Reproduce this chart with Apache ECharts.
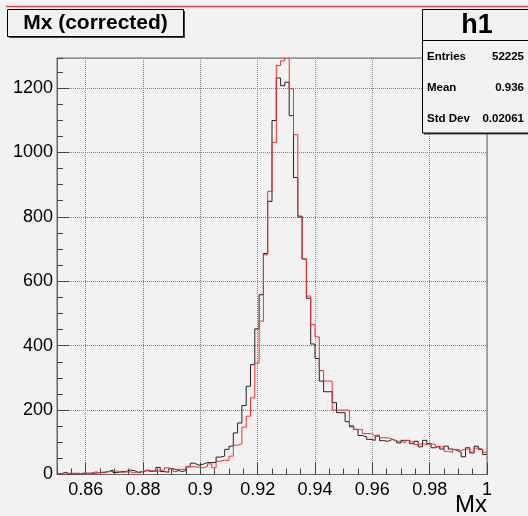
<!DOCTYPE html>
<html>
<head>
<meta charset="utf-8">
<script src="https://cdn.jsdelivr.net/npm/echarts@6/dist/echarts.min.js"></script>
<style>html,body{margin:0;padding:0;background:#f2f2f2;}#c{width:528px;height:516px;}</style>
</head>
<body>
<div id="c"></div>
<script>
// Histogram binning
const XMIN = 0.85, XMAX = 1.0, NBINS = 100;
const YMAX = 1293;
const xTicks = [0.86, 0.88, 0.9, 0.92, 0.94, 0.96, 0.98, 1];
const yTicks = [0, 200, 400, 600, 800, 1000, 1200];

// Black histogram (bin contents)
const blackCounts = [
  2,7,2,2,2,4,4,4,4,6,
  6,9,14,6,9,9,14,12,6,9,
  12,9,12,22,9,7,18,14,9,12,
  24,35,29,32,37,37,37,54,57,78,
  88,129,160,214,274,341,452,558,686,848,
  1099,1231,1207,1218,1114,922,802,669,547,405,
  360,290,257,257,223,192,192,164,148,140,
  121,117,109,106,119,105,103,109,105,98,
  106,106,96,103,86,106,96,83,88,79,
  88,79,75,69,55,83,67,88,78,62
];
// Red histogram (bin contents)
const redCounts = [
  2,1,4,4,4,2,2,4,8,6,
  8,9,9,11,6,8,8,6,8,9,
  14,12,9,12,14,21,16,9,16,16,
  24,24,23,21,25,33,21,41,45,43,
  57,91,95,147,181,238,346,476,682,879,
  1031,1270,1284,1310,1198,1055,798,669,554,465,
  427,323,290,290,200,200,200,200,152,140,
  140,127,127,121,123,114,114,109,103,103,
  98,105,100,93,96,93,96,93,86,86,
  72,69,78,75,79,79,69,82,78,69
];

const statsLabels = ['Entries', 'Mean', 'Std Dev'];
const statsValues = ['52225', '0.936', '0.02061'];

function stepData(counts) {
  const w = (XMAX - XMIN) / NBINS;
  const d = counts.map((v, i) => [XMIN + i * w, v]);
  d.push([XMAX, counts[counts.length - 1]]);
  return d;
}

const FONT = 'Liberation Sans, Helvetica, Arial, sans-serif';
const chart = echarts.init(document.getElementById('c'), null, {renderer: 'canvas'});

const graphics = [
  {type:'line', shape:{x1:6, y1:6.5, x2:528, y2:6.5}, style:{stroke:'#e04444', lineWidth:1.5}, z:10},
  // title box
  {type:'rect', shape:{x:9, y:11, width:176, height:27}, style:{fill:'#444'}, z:9},
  {type:'rect', shape:{x:7.5, y:9.5, width:176, height:27}, style:{fill:'#f2f2f2', stroke:'#000', lineWidth:1}, z:10},
  {type:'text', x:95.5, y:23, style:{text:'Mx (corrected)', font:'bold 21px ' + FONT, fill:'#000', align:'center', verticalAlign:'middle'}, z:11},
  // stats box
  {type:'rect', shape:{x:424, y:11, width:110, height:123.5}, style:{fill:'#444'}, z:9},
  {type:'rect', shape:{x:422.5, y:9.5, width:110, height:123.5}, style:{fill:'#f2f2f2', stroke:'#000', lineWidth:1}, z:10},
  {type:'line', shape:{x1:422.5, y1:40.5, x2:528, y2:40.5}, style:{stroke:'#000', lineWidth:1}, z:11},
  {type:'text', x:477, y:26, style:{text:'h1', font:'bold 27px ' + FONT, fill:'#000', align:'center', verticalAlign:'middle'}, z:11},
  // axis title
  {type:'text', x:487, y:505, style:{text:'Mx', font:'24px ' + FONT, fill:'#000', align:'right', verticalAlign:'middle'}, z:11}
];
const rowY = [57, 88, 118.5];
statsLabels.forEach((t, i) => {
  graphics.push({type:'text', x:427, y:rowY[i], style:{text:t, font:'bold 11.5px ' + FONT, fill:'#000', align:'left', verticalAlign:'middle'}, z:11});
  graphics.push({type:'text', x:524, y:rowY[i], style:{text:statsValues[i], font:'bold 11.5px ' + FONT, fill:'#000', align:'right', verticalAlign:'middle'}, z:11});
});

const fmt = v => String(+(+v).toFixed(3));

chart.setOption({
  animation: false,
  backgroundColor: '#f2f2f2',
  grid: {left:57, top:58, width:430, height:416.5, show:true, backgroundColor:'#f2f2f2', borderColor:'#666', borderWidth:1, containLabel:false},
  xAxis: [
    {type:'value', min:XMIN, max:XMAX, splitNumber:7, minInterval:0.02, maxInterval:0.02, position:'bottom',
     axisLine:{show:true, lineStyle:{color:'#666', width:1}},
     axisTick:{show:true, inside:true, length:12, lineStyle:{color:'#444'}},
     axisLabel:{show:true, showMinLabel:false, showMaxLabel:true, color:'#000', fontSize:18, fontFamily:FONT, margin:7, formatter:fmt},
     splitLine:{show:true, lineStyle:{type:'dotted', color:'#808080', width:1}}},
    {type:'value', min:XMIN, max:XMAX, interval:0.005, position:'bottom', offset:0,
     axisLine:{show:false}, axisLabel:{show:false}, splitLine:{show:false},
     axisTick:{show:true, inside:true, length:6, lineStyle:{color:'#444'}}}
  ],
  yAxis: [
    {type:'value', min:0, max:YMAX, interval:200, position:'left',
     axisLine:{show:true, lineStyle:{color:'#666', width:1}},
     axisTick:{show:true, inside:true, length:12, lineStyle:{color:'#444'}},
     axisLabel:{show:true, showMaxLabel:false, color:'#000', fontSize:18, fontFamily:FONT, margin:4, formatter: v => String(Math.round(v))},
     splitLine:{show:true, lineStyle:{type:'dotted', color:'#808080', width:1}}},
    {type:'value', min:0, max:YMAX, interval:50, position:'left', offset:0,
     axisLine:{show:false}, axisLabel:{show:false}, splitLine:{show:false},
     axisTick:{show:true, inside:true, length:6, lineStyle:{color:'#444'}}}
  ],
  series: [
    {name:'black', type:'line', step:'end', data:stepData(blackCounts), xAxisIndex:0, yAxisIndex:0,
     showSymbol:false, symbol:'none', clip:true, lineStyle:{color:'#222', width:1}, z:3},
    {name:'red', type:'line', step:'end', data:stepData(redCounts), xAxisIndex:0, yAxisIndex:0,
     showSymbol:false, symbol:'none', clip:true, lineStyle:{color:'#ff2a2a', width:1}, z:4}
  ],
  graphic: graphics
});
</script>
</body>
</html>
